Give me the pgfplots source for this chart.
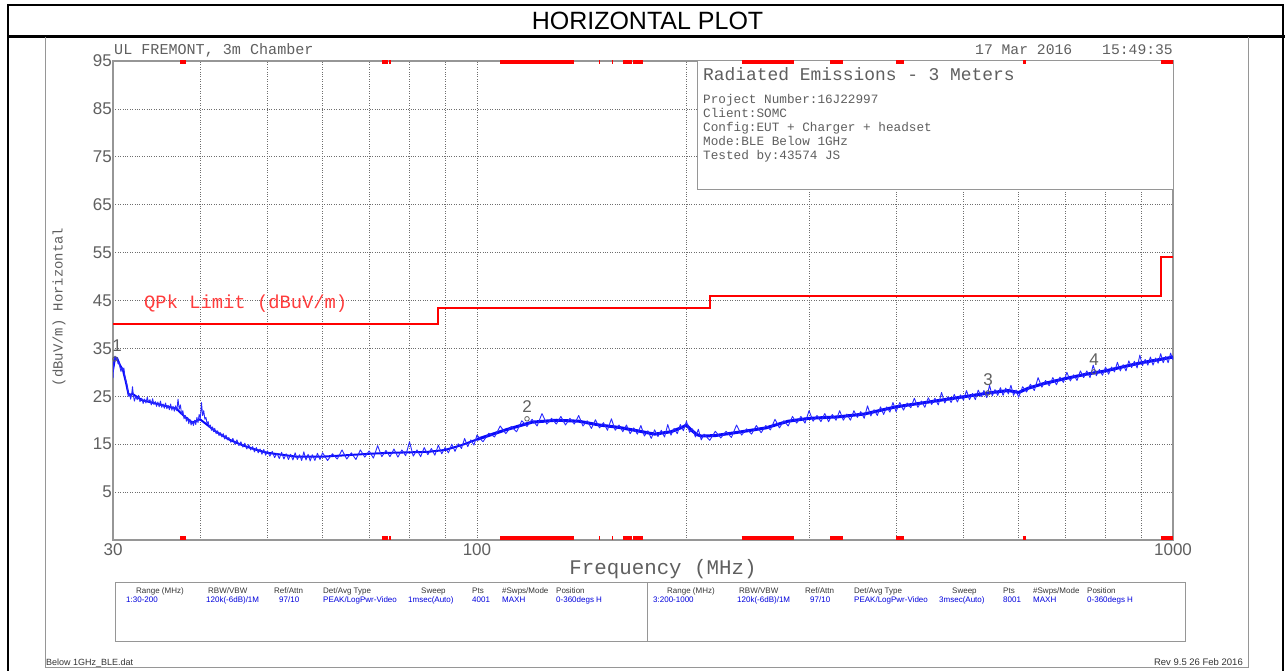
\documentclass[border=0pt]{standalone}
\usepackage{fontspec}
\setmainfont{Liberation Sans}
\setmonofont{Liberation Mono}
\usepackage{pgfplots}
\usepackage{pgfplotstable}
\pgfplotsset{compat=1.18}
\definecolor{txtgray}{RGB}{95,95,95}
\definecolor{axgray}{RGB}{150,150,150}
\definecolor{gridgray}{RGB}{110,110,110}
\definecolor{trblue}{RGB}{10,10,250}
\definecolor{fuzzblue}{RGB}{40,40,255}
\definecolor{lblred}{RGB}{255,60,60}
\definecolor{tblblue}{RGB}{0,0,220}
\newcommand{\fs}[1]{\fontsize{#1}{#1}\selectfont}

\pgfplotstableread{
f v
30.0 28.8
30.05 31.0
30.1 32.5
30.2 33.4
30.3 32.6
30.4 33.1
30.5 31.8
30.6 32.2
30.7 31.0
30.8 30.2
30.9 31.0
31.0 30.4
31.1 30.9
31.2 29.2
31.3 28.3
31.4 27.6
31.5 26.3
31.6 25.0
31.7 25.6
31.8 24.4
31.9 25.2
32.0 27.0
32.1 25.1
32.2 24.0
32.35 25.0
32.5 24.3
32.65 25.2
32.8 23.9
33.0 24.6
33.15 23.5
33.3 24.4
33.45 23.6
33.6 24.8
33.75 23.7
33.9 24.3
34.05 23.2
34.2 24.5
34.35 23.3
34.5 23.9
34.65 22.9
34.8 23.8
34.95 22.8
35.1 24.0
35.25 22.7
35.4 23.4
35.55 22.5
35.7 23.6
35.85 22.4
36.0 23.1
36.15 22.2
36.3 23.4
36.45 22.1
36.6 22.9
36.75 21.9
36.9 23.0
37.05 22.0
37.2 24.4
37.35 22.3
37.5 23.2
37.65 21.2
37.8 22.0
37.95 20.3
38.1 21.0
38.25 19.8
38.4 20.6
38.55 19.3
38.7 20.2
38.85 19.0
39.0 19.8
39.15 18.9
39.3 20.0
39.45 19.1
39.6 20.6
39.75 19.5
39.9 21.2
40.05 20.4
40.2 23.7
40.35 21.0
40.5 22.0
40.65 20.2
40.8 20.6
40.95 19.3
41.1 19.7
41.25 18.5
41.4 19.0
41.55 17.9
41.7 18.6
41.85 17.6
42.0 18.3
42.2 17.2
42.4 17.8
42.6 16.8
42.8 17.4
43.0 16.5
43.2 17.2
43.4 16.1
43.6 16.9
43.8 15.9
44.0 16.4
44.3 15.4
44.6 16.2
44.9 15.0
45.2 15.9
45.5 14.7
45.8 15.5
46.1 14.4
46.4 15.2
46.7 14.0
47.0 14.9
47.3 13.8
47.6 14.5
47.9 13.4
48.2 14.3
48.5 13.2
48.8 14.0
49.1 12.9
49.4 13.9
49.7 12.7
50.0 13.6
50.4 12.5
50.8 13.5
51.2 12.2
51.6 13.1
52.0 12.0
52.4 13.3
52.8 11.9
53.2 13.0
53.6 11.8
54.0 12.9
54.4 11.7
54.8 13.2
55.2 11.8
55.6 12.8
56.0 11.6
56.4 13.4
56.8 11.7
57.2 12.9
57.6 11.5
58.0 12.8
58.5 11.6
59.0 13.1
59.5 11.8
60 13.2
61 11.6
62 13.0
63 11.9
64 13.8
65 11.9
66 13.2
67 11.8
68 13.8
69 12.3
70 13.6
71 12.1
72 14.7
73 12.4
74 13.7
75 12.4
76 14.0
77 12.3
78 13.8
79 12.6
80 15.5
81 12.5
82 13.8
83 12.4
84 14.3
85 12.8
86 14.1
87 12.7
88 14.8
89 13.0
90 14.3
91 13.2
92 15.0
93 13.5
94 15.1
95 14.1
96 16.2
97 14.5
98 15.9
99 14.8
100 16.9
102 15.5
104 17.3
106 16.5
108 18.8
110 17.2
112 18.7
114 17.6
116 19.9
118 18.7
120 20.2
122 18.8
124 21.4
126 19.2
128 20.4
130 19.2
132 20.8
134 19.0
136 20.4
138 19.2
140 21.0
142 18.8
144 19.9
146 18.3
148 20.1
150 18.4
152 19.5
154 17.9
156 20.3
158 17.9
160 19.0
162 17.6
164 19.0
166 17.2
168 18.4
170 17.1
172 18.9
174 16.7
176 17.8
178 16.2
180 18.0
182 16.6
184 17.9
186 16.5
188 19.1
190 16.9
192 18.3
194 17.2
196 19.1
198 17.8
200 19.8
202 17.5
204 18.2
206 16.5
208 18.1
210 15.9
212 17.1
216 15.8
220 17.7
224 16.3
228 17.7
232 16.4
236 19.0
240 16.9
244 18.2
248 17.1
252 18.9
256 17.4
260 18.9
264 18.0
268 20.2
272 18.4
276 19.9
280 18.8
284 20.8
288 19.4
292 20.8
296 19.4
300 22.0
304 19.8
308 21.0
312 19.7
316 21.4
320 19.7
324 21.2
328 20.0
332 22.0
336 20.0
340 21.3
344 20.0
348 22.0
352 20.6
356 21.8
360 20.4
364 23.0
368 20.9
372 22.2
376 21.0
380 22.8
384 21.2
388 22.8
392 21.7
396 23.7
400 21.8
405 23.7
410 22.1
415 23.6
420 22.6
425 24.6
430 22.7
435 24.0
440 22.7
445 24.7
450 23.3
455 24.6
460 23.2
465 25.8
470 23.6
475 24.9
480 23.7
485 25.4
490 23.8
495 25.3
500 24.2
505 26.2
510 24.3
515 25.6
520 24.3
525 26.3
530 24.9
535 26.2
540 24.7
545 27.3
550 25.1
555 26.4
560 25.2
565 26.8
570 25.2
575 26.7
580 25.5
585 27.3
590 25.2
595 26.3
600 24.8
608 27.0
616 25.9
624 27.5
632 26.2
640 28.9
648 26.9
656 28.3
664 27.2
672 28.9
680 27.4
688 29.0
696 27.9
704 30.0
712 28.2
720 29.5
728 28.3
736 30.3
744 28.9
752 30.3
760 28.9
768 31.5
776 29.3
784 30.6
792 29.4
800 31.1
808 29.6
816 31.1
824 30.1
832 32.1
840 30.3
848 31.6
856 30.3
864 32.4
872 31.0
880 32.3
888 30.9
896 33.6
904 31.4
912 32.7
920 31.5
928 33.2
936 31.5
944 33.0
952 31.9
960 33.9
968 32.0
976 33.3
984 32.0
992 34.0
1000 32.6
}\trace

\pgfplotstableread{
f v
30 30.5
30.2 33.0
30.4 33.0
30.7 31.5
31.0 30.5
31.3 28.0
31.6 25.2
32 25.5
33 24.2
35 23.3
37 22.4
38 20.8
39 19.5
40 20.2
41 19.0
42 17.8
44 16.0
46 14.8
48 13.9
50 13.2
55 12.4
60 12.4
65 12.7
70 13.0
75 13.2
80 13.3
85 13.4
90 13.8
95 14.8
100 16.0
}\bandA

\pgfplotstableread{
f v
100 16.0
110 18.0
120 19.6
130 20.0
140 19.8
150 19.0
160 18.5
170 17.8
180 17.1
190 17.6
197 18.5
200 19.0
203 18.0
207 17.0
210 16.7
220 16.8
240 17.6
260 18.4
280 19.8
300 20.4
330 20.7
360 21.3
400 22.8
450 23.9
500 24.9
550 25.8
580 26.2
600 25.8
620 26.7
650 27.6
700 28.7
750 29.6
800 30.3
850 31.2
900 32.0
950 32.6
1000 33.2
}\bandB

\begin{document}
\begin{tikzpicture}[x=1pt,y=1pt]
\useasboundingbox (0,0) rectangle (1285,671);
% outer frame
\draw[black, line width=2.5pt] (8,0) -- (8,666) -- (1283,666) -- (1283,0);
\draw[black, line width=3pt] (8,634) -- (1285,634);
\draw[axgray, line width=1pt] (45,634) -- (45,3) -- (1248,3) -- (1248,634);
\node[font=\fs{25}] at (647.5,650) {HORIZONTAL PLOT};

\begin{axis}[
  at={(113pt,131pt)}, anchor=south west,
  width=1060pt, height=479pt, scale only axis,
  xmode=log, xmin=30, xmax=1000, ymin=-5, ymax=95,
  xtick={30,100,1000}, xticklabels={30,100,1000},
  minor xtick={40,50,60,70,80,90,200,300,400,500,600,700,800,900},
  ytick={5,15,25,35,45,55,65,75,85,95},
  grid=both,
  major grid style={gridgray, dotted, line width=0.7pt},
  minor grid style={gridgray, dotted, line width=0.7pt},
  major tick length=0pt, minor tick length=0pt,
  axis line style={axgray, line width=1.2pt},
  /pgf/number format/assume math mode=true,
  tick label style={txtgray, font=\fs{17}},
  yticklabel style={anchor=east, inner sep=0pt, xshift=-1pt},
  xticklabel style={anchor=north, inner sep=0pt, yshift=-3pt},
  unbounded coords=jump,
]
\filldraw[fill=white, draw=axgray, line width=1pt] (rel axis cs:0.551,1) rectangle (rel axis cs:1,0.7307);
\addplot[trblue, line width=2pt, line join=round] table[x=f,y=v] {\bandA};
\addplot[trblue, line width=3pt, line join=round] table[x=f,y=v] {\bandB};
\addplot[fuzzblue, line width=0.9pt, line join=round] table[x=f,y=v] {\trace};
\addplot[red, line width=2pt] coordinates {(30,40) (88,40) (88,43.5) (216,43.5) (216,46) (960,46) (960,54) (1000,54)};
\addplot[red, line width=4pt] coordinates {
 (37.5,94.7) (38.25,94.7) (38.25,nan)
 (73,94.7) (74.6,94.7) (74.6,nan)
 (74.8,94.7) (75.2,94.7) (75.2,nan)
 (108,94.7) (138,94.7) (138,nan)
 (149.8,94.7) (150.15,94.7) (150.15,nan)
 (156.4,94.7) (156.7,94.7) (156.7,nan)
 (162,94.7) (167.2,94.7) (167.2,nan)
 (167.7,94.7) (173.2,94.7) (173.2,nan)
 (240,94.7) (285,94.7) (285,nan)
 (322,94.7) (335.4,94.7) (335.4,nan)
 (399.9,94.7) (410,94.7) (410,nan)
 (608,94.7) (614,94.7) (614,nan)
 (960,94.7) (1000,94.7)};
\addplot[red, line width=4pt] coordinates {
 (37.5,-4.6) (38.25,-4.6) (38.25,nan)
 (73,-4.6) (74.6,-4.6) (74.6,nan)
 (74.8,-4.6) (75.2,-4.6) (75.2,nan)
 (108,-4.6) (138,-4.6) (138,nan)
 (149.8,-4.6) (150.15,-4.6) (150.15,nan)
 (156.4,-4.6) (156.7,-4.6) (156.7,nan)
 (162,-4.6) (167.2,-4.6) (167.2,nan)
 (167.7,-4.6) (173.2,-4.6) (173.2,nan)
 (240,-4.6) (285,-4.6) (285,nan)
 (322,-4.6) (335.4,-4.6) (335.4,nan)
 (399.9,-4.6) (410,-4.6) (410,nan)
 (608,-4.6) (614,-4.6) (614,nan)
 (960,-4.6) (1000,-4.6)};
\addplot[only marks, mark=o, mark size=2.3pt, txtgray, line width=0.8pt] coordinates {(30.2,32.8) (118,20.3) (542,25.7) (770,30.1)};
\end{axis}

% marker numbers
\node[txtgray, font=\fs{17}] at (117,325) {1};
\node[txtgray, font=\fs{17}] at (527,264) {2};
\node[txtgray, font=\fs{17}] at (988,291) {3};
\node[txtgray, font=\fs{17}] at (1094,311) {4};

% texts around axis
\node[txtgray, font=\ttfamily\fs{15.1}, anchor=base west, inner sep=0pt] at (114,616) {UL FREMONT, 3m Chamber};
\node[txtgray, font=\ttfamily\fs{14.7}, anchor=base west, inner sep=0pt] at (975,616) {17 Mar 2016};
\node[txtgray, font=\ttfamily\fs{14.7}, anchor=base east, inner sep=0pt] at (1173,616) {15:49:35};
\node[txtgray, font=\ttfamily\fs{20.8}, anchor=base, inner sep=0pt] at (663,96) {Frequency (MHz)};
\node[txtgray, font=\ttfamily\fs{13.9}, rotate=90, inner sep=0pt] at (59,364) {(dBuV/m) Horizontal};
\node[lblred, font=\ttfamily\fs{18.8}, anchor=base west, inner sep=0pt] at (144,362) {QPk Limit (dBuV/m)};

% info box text
\node[txtgray, font=\ttfamily\fs{17.9}, anchor=base west, inner sep=0pt] at (703,590.3) {Radiated Emissions - 3 Meters};
\node[txtgray, font=\ttfamily\fs{12.7}, anchor=base west, inner sep=0pt] at (703,567.7) {Project Number:16J22997};
\node[txtgray, font=\ttfamily\fs{12.7}, anchor=base west, inner sep=0pt] at (703,553.7) {Client:SOMC};
\node[txtgray, font=\ttfamily\fs{12.7}, anchor=base west, inner sep=0pt] at (703,539.7) {Config:EUT + Charger + headset};
\node[txtgray, font=\ttfamily\fs{12.7}, anchor=base west, inner sep=0pt] at (703,525.7) {Mode:BLE Below 1GHz};
\node[txtgray, font=\ttfamily\fs{12.7}, anchor=base west, inner sep=0pt] at (703,511.7) {Tested by:43574 JS};

% bottom table
\draw[axgray, line width=1pt] (115,88) rectangle (1185,29);
\draw[axgray, line width=1pt] (647,88) -- (647,29);
\foreach \dx in {0,531} {
  \begin{scope}[xshift=\dx pt]
  \node[black!80, font=\fs{8}, anchor=base west, inner sep=0pt] at (136,77) {Range (MHz)};
  \node[black!80, font=\fs{8}, anchor=base west, inner sep=0pt] at (208,77) {RBW/VBW};
  \node[black!80, font=\fs{8}, anchor=base west, inner sep=0pt] at (274,77) {Ref/Attn};
  \node[black!80, font=\fs{8}, anchor=base west, inner sep=0pt] at (323,77) {Det/Avg Type};
  \node[black!80, font=\fs{8}, anchor=base west, inner sep=0pt] at (421,77) {Sweep};
  \node[black!80, font=\fs{8}, anchor=base west, inner sep=0pt] at (472,77) {Pts};
  \node[black!80, font=\fs{8}, anchor=base west, inner sep=0pt] at (502,77) {\#Swps/Mode};
  \node[black!80, font=\fs{8}, anchor=base west, inner sep=0pt] at (556,77) {Position};
  \node[tblblue, font=\fs{8}, anchor=base west, inner sep=0pt] at (206,68) {120k(-6dB)/1M};
  \node[tblblue, font=\fs{8}, anchor=base west, inner sep=0pt] at (279,68) {97/10};
  \node[tblblue, font=\fs{8}, anchor=base west, inner sep=0pt] at (323,68) {PEAK/LogPwr-Video};
  \node[tblblue, font=\fs{8}, anchor=base west, inner sep=0pt] at (502,68) {MAXH};
  \node[tblblue, font=\fs{8}, anchor=base west, inner sep=0pt] at (556,68) {0-360degs H};
  \end{scope}
}
\node[tblblue, font=\fs{8}, anchor=base west, inner sep=0pt] at (126,68) {1:30-200};
\node[tblblue, font=\fs{8}, anchor=base west, inner sep=0pt] at (408,68) {1msec(Auto)};
\node[tblblue, font=\fs{8}, anchor=base west, inner sep=0pt] at (472,68) {4001};
\node[tblblue, font=\fs{8}, anchor=base west, inner sep=0pt] at (653,68) {3:200-1000};
\node[tblblue, font=\fs{8}, anchor=base west, inner sep=0pt] at (939,68) {3msec(Auto)};
\node[tblblue, font=\fs{8}, anchor=base west, inner sep=0pt] at (1003,68) {8001};

\node[black!80, font=\fs{9}, anchor=base west, inner sep=0pt] at (46,5) {Below 1GHz\_BLE.dat};
\node[black!80, font=\fs{9.5}, anchor=base east, inner sep=0pt] at (1243,5) {Rev 9.5 26 Feb 2016};
\end{tikzpicture}
\end{document}
